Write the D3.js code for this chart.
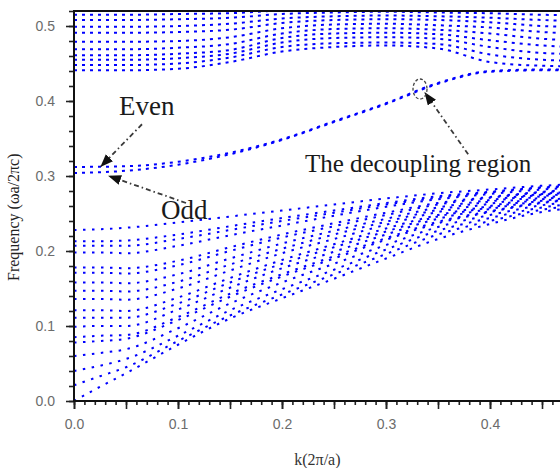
<!DOCTYPE html>
<html>
<head>
<meta charset="utf-8">
<script src="https://cdn.jsdelivr.net/npm/d3@7"></script>
<style>
  body { margin: 0; background: #fff; }
</style>
</head>
<body>
<svg id="chart" width="560" height="468"></svg>
<script>
// k samples for the lower bunch of bands (below the gap)
var kLow = [0, 0.025, 0.05, 0.1, 0.15, 0.2, 0.25, 0.3, 0.35, 0.4, 0.45, 0.5];
var lowBands = [
  [0, 0.019, 0.037, 0.075, 0.110, 0.137, 0.163, 0.190, 0.216, 0.236, 0.252, 0.260],
  [0.021, 0.033, 0.045, 0.080, 0.114, 0.142, 0.169, 0.196, 0.222, 0.240, 0.255, 0.263],
  [0.040, 0.047, 0.056, 0.087, 0.121, 0.149, 0.175, 0.202, 0.227, 0.244, 0.258, 0.265],
  [0.060, 0.064, 0.069, 0.097, 0.130, 0.158, 0.183, 0.208, 0.232, 0.248, 0.261, 0.268],
  [0.078, 0.080, 0.083, 0.108, 0.139, 0.166, 0.190, 0.215, 0.237, 0.252, 0.264, 0.270],
  [0.085, 0.087, 0.088, 0.112, 0.143, 0.169, 0.193, 0.217, 0.239, 0.253, 0.265, 0.271],
  [0.099, 0.100, 0.100, 0.122, 0.151, 0.177, 0.199, 0.222, 0.243, 0.256, 0.267, 0.273],
  [0.111, 0.111, 0.111, 0.130, 0.158, 0.183, 0.205, 0.226, 0.246, 0.258, 0.269, 0.275],
  [0.121, 0.121, 0.120, 0.138, 0.164, 0.188, 0.209, 0.230, 0.248, 0.260, 0.271, 0.276],
  [0.136, 0.136, 0.135, 0.150, 0.174, 0.197, 0.216, 0.235, 0.252, 0.263, 0.273, 0.278],
  [0.147, 0.147, 0.146, 0.159, 0.182, 0.203, 0.222, 0.239, 0.255, 0.266, 0.275, 0.279],
  [0.158, 0.158, 0.157, 0.169, 0.190, 0.210, 0.227, 0.243, 0.258, 0.268, 0.276, 0.281],
  [0.171, 0.171, 0.170, 0.181, 0.200, 0.218, 0.233, 0.248, 0.262, 0.271, 0.278, 0.283],
  [0.178, 0.178, 0.177, 0.187, 0.205, 0.222, 0.237, 0.251, 0.264, 0.272, 0.279, 0.283],
  [0.198, 0.198, 0.197, 0.207, 0.221, 0.234, 0.247, 0.259, 0.269, 0.276, 0.282, 0.286],
  [0.207, 0.207, 0.207, 0.216, 0.228, 0.240, 0.251, 0.262, 0.271, 0.278, 0.284, 0.287],
  [0.213, 0.213, 0.214, 0.222, 0.233, 0.244, 0.254, 0.264, 0.273, 0.279, 0.285, 0.288],
  [0.228, 0.229, 0.231, 0.238, 0.246, 0.254, 0.262, 0.270, 0.277, 0.282, 0.287, 0.290]
];

// k samples for the upper bunch and the guided (even / odd) modes
var kHigh = [0, 0.05, 0.1, 0.15, 0.2, 0.25, 0.3, 0.35, 0.4, 0.45, 0.5];
var highBands = [
  [0.441, 0.441, 0.443, 0.452, 0.466, 0.472, 0.474, 0.470, 0.452, 0.447, 0.446],
  [0.448, 0.448, 0.450, 0.458, 0.472, 0.477, 0.478, 0.476, 0.462, 0.455, 0.453],
  [0.455, 0.455, 0.457, 0.463, 0.478, 0.484, 0.485, 0.483, 0.472, 0.464, 0.462],
  [0.461, 0.461, 0.463, 0.468, 0.484, 0.490, 0.491, 0.489, 0.481, 0.474, 0.471],
  [0.469, 0.469, 0.471, 0.476, 0.490, 0.496, 0.497, 0.495, 0.490, 0.483, 0.480],
  [0.479, 0.479, 0.480, 0.485, 0.497, 0.502, 0.503, 0.501, 0.498, 0.492, 0.489],
  [0.491, 0.491, 0.492, 0.495, 0.504, 0.508, 0.509, 0.508, 0.505, 0.500, 0.498],
  [0.499, 0.499, 0.500, 0.503, 0.510, 0.513, 0.514, 0.513, 0.511, 0.508, 0.506],
  [0.508, 0.508, 0.509, 0.511, 0.516, 0.518, 0.519, 0.518, 0.517, 0.515, 0.514],
  [0.515, 0.515, 0.516, 0.517, 0.521, 0.523, 0.524, 0.523, 0.522, 0.521, 0.520]
];
var evenBand = [0.312, 0.313, 0.319, 0.331, 0.349, 0.373, 0.397, 0.424, 0.440, 0.442, 0.442];
var oddBand  = [0.304, 0.307, 0.315, 0.329, 0.348, 0.372, 0.396, 0.423, 0.439, 0.441, 0.441];

var xMinor = d3.range(0, 0.501, 0.01);
var xMajor = d3.range(0, 0.501, 0.05);
var xLabels = [0, 0.1, 0.2, 0.3, 0.4];
var yMinor = d3.range(0, 0.521, 0.02);
var yMajor = [0, 0.1, 0.2, 0.3, 0.4, 0.5];

var svg = d3.select("#chart");

var x = d3.scaleLinear().domain([0, 0.5]).range([74, 594]);
var y = d3.scaleLinear().domain([0, 0.52]).range([401, 11]);

svg.append("defs").append("clipPath").attr("id", "plot")
  .append("rect")
  .attr("x", x(0)).attr("y", y(0.52))
  .attr("width", x(0.5) - x(0)).attr("height", y(0) - y(0.52));

var marker = svg.select("defs").append("marker")
  .attr("id", "head")
  .attr("markerUnits", "userSpaceOnUse")
  .attr("markerWidth", 13).attr("markerHeight", 10)
  .attr("refX", 12).attr("refY", 5)
  .attr("orient", "auto");
marker.append("path").attr("d", "M0,0 L13,5 L0,10 Z").attr("fill", "#111");

// bands
var bandLine = function(ks) {
  return d3.line()
    .x(function(d, i) { return x(ks[i]); })
    .y(function(d) { return y(d); })
    .curve(d3.curveMonotoneX);
};

var bands = svg.append("g").attr("clip-path", "url(#plot)");

bands.selectAll("path.low")
  .data(lowBands)
  .enter()
  .append("path")
  .attr("class", "low")
  .attr("d", bandLine(kLow))
  .attr("fill", "none")
  .attr("stroke", "#0000ff")
  .attr("stroke-width", 2)
  .attr("stroke-dasharray", "2.5,6.5");

bands.selectAll("path.high")
  .data(highBands.concat([evenBand, oddBand]))
  .enter()
  .append("path")
  .attr("class", "high")
  .attr("d", bandLine(kHigh))
  .attr("fill", "none")
  .attr("stroke", "#0000ff")
  .attr("stroke-width", 2)
  .attr("stroke-dasharray", "3,5");

// axes
var tickFont = function(g) {
  g.selectAll("text")
    .attr("font-family", "Liberation Sans, Arial, sans-serif")
    .attr("font-size", 14)
    .attr("fill", "#6b6b6b");
  g.selectAll("line").attr("stroke", "#222").attr("stroke-width", 1.6);
  g.select(".domain").remove();
};

svg.append("g")
  .attr("transform", "translate(0," + y(0) + ")")
  .call(d3.axisBottom(x).tickValues(xMinor).tickSize(4).tickFormat(""))
  .call(tickFont);
svg.append("g")
  .attr("transform", "translate(0," + y(0) + ")")
  .call(d3.axisBottom(x).tickValues(xMajor).tickSize(8).tickFormat(""))
  .call(tickFont);
svg.append("g")
  .attr("transform", "translate(0," + y(0) + ")")
  .call(d3.axisBottom(x).tickValues(xLabels).tickSize(8).tickPadding(10).tickFormat(d3.format(".1f")))
  .call(tickFont);

svg.append("g")
  .attr("transform", "translate(" + x(0) + ",0)")
  .call(d3.axisLeft(y).tickValues(yMinor).tickSize(5).tickFormat(""))
  .call(tickFont);
svg.append("g")
  .attr("transform", "translate(" + x(0) + ",0)")
  .call(d3.axisLeft(y).tickValues(yMajor).tickSize(8).tickPadding(11).tickFormat(d3.format(".1f")))
  .call(tickFont);

// frame lines
svg.append("path")
  .attr("d", "M" + x(0.5) + "," + y(0.52) + "H" + x(0) + "V" + y(0) + "H" + x(0.5))
  .attr("fill", "none")
  .attr("stroke", "#111")
  .attr("stroke-width", 2);

// axis titles
var serif = "Liberation Serif, Times New Roman, serif";

svg.append("text")
  .attr("transform", "translate(19," + y(0.245) + ") rotate(-90)")
  .attr("text-anchor", "middle")
  .attr("font-family", serif)
  .attr("font-size", 16)
  .attr("fill", "#222")
  .text("Frequency (ωa/2πc)");

svg.append("text")
  .attr("x", x(0.234)).attr("y", 465)
  .attr("text-anchor", "middle")
  .attr("font-family", serif)
  .attr("font-size", 16)
  .attr("fill", "#333")
  .text("k(2π/a)");

// annotations
var notes = [
  {text: "Even", k: 0.0433, f: 0.381, size: 27},
  {text: "Odd", k: 0.0837, f: 0.243, size: 27},
  {text: "The decoupling region", k: 0.222, f: 0.305, size: 25}
];
svg.selectAll("text.note")
  .data(notes)
  .enter()
  .append("text")
  .attr("class", "note")
  .attr("x", function(d) { return x(d.k); })
  .attr("y", function(d) { return y(d.f); })
  .attr("font-family", serif)
  .attr("font-size", function(d) { return d.size; })
  .attr("fill", "#1a1a1a")
  .text(function(d) { return d.text; });

var arrows = [
  {k0: 0.0654, f0: 0.369, k1: 0.026, f1: 0.313},
  {k0: 0.1077, f0: 0.264, k1: 0.0337, f1: 0.300},
  {k0: 0.379, f0: 0.329, k1: 0.3375, f1: 0.411}
];
svg.selectAll("line.arrow")
  .data(arrows)
  .enter()
  .append("line")
  .attr("class", "arrow")
  .attr("x1", function(d) { return x(d.k0); })
  .attr("y1", function(d) { return y(d.f0); })
  .attr("x2", function(d) { return x(d.k1); })
  .attr("y2", function(d) { return y(d.f1); })
  .attr("stroke", "#3a3a3a")
  .attr("stroke-width", 1.8)
  .attr("stroke-dasharray", "5,3,1.5,3")
  .attr("marker-end", "url(#head)");

svg.append("ellipse")
  .attr("cx", x(0.3327)).attr("cy", y(0.416))
  .attr("rx", 7).attr("ry", 10)
  .attr("fill", "none")
  .attr("stroke", "#444")
  .attr("stroke-width", 1.3)
  .attr("stroke-dasharray", "3,2");
</script>
</body>
</html>
